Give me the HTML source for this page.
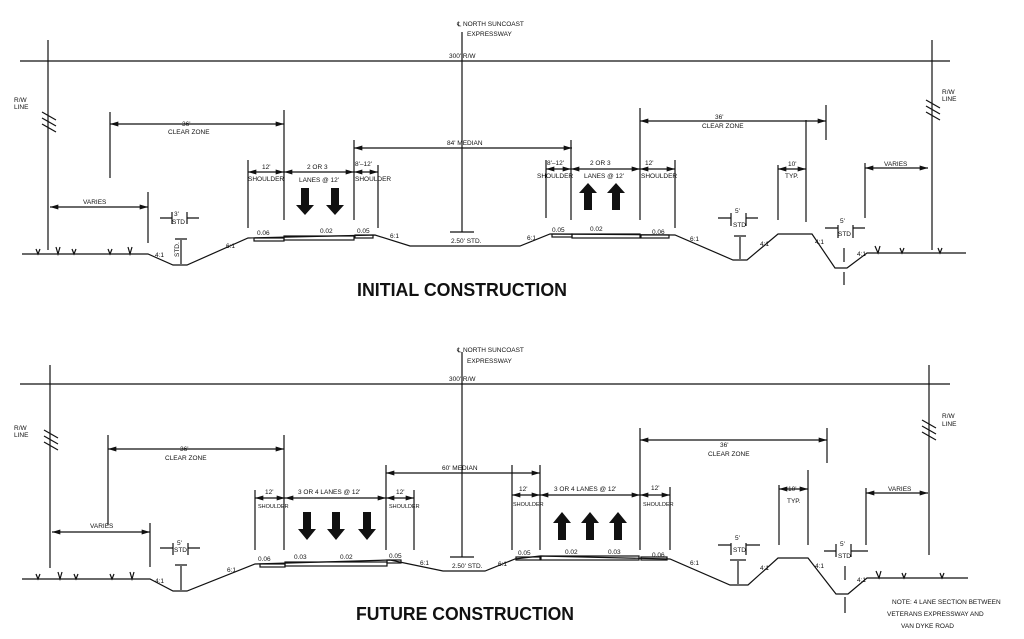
<!DOCTYPE html>
<html><head><meta charset="utf-8"><style>
html,body{margin:0;padding:0;background:#fff}
svg{display:block}
text{font-family:"Liberation Sans",sans-serif;font-size:6.5px;fill:#111}
.t{font-size:18px;font-weight:bold}
</style></head><body>
<svg width="1024" height="639" viewBox="0 0 1024 639" xmlns="http://www.w3.org/2000/svg">
<defs>
<marker id="a" viewBox="0 0 10 6" refX="10" refY="3" markerWidth="10" markerHeight="5" orient="auto-start-reverse" markerUnits="userSpaceOnUse"><path d="M0,0L10,3L0,6z" fill="#111"/></marker>
</defs>
<g stroke="#111" stroke-width="1.2" fill="none">
<!-- TOP -->
<line x1="462" y1="32" x2="462" y2="232"/>
<line x1="450" y1="232" x2="474" y2="232"/>
<line x1="20" y1="61" x2="950" y2="61"/>
<line x1="48" y1="40" x2="48" y2="250"/><line x1="932" y1="40" x2="932" y2="250"/>
<path d="M42,112l14,8M42,118l14,8M42,124l14,8M926,100l14,8M926,106l14,8M926,112l14,8"/>
<polyline points="22,254 148,254 173,265 187,265 248,238 375,235 410,246 520,246 550,234 675,235 733,260 747,260 778,234 812,234 835,268 847,268 867,253 966,253"/>
<path d="M36,249l2,5l2,-5M56,247l2,7l2,-7M72,249l2,5l2,-5M108,249l2,5l2,-5M128,247l2,7l2,-7M875,246l3,7l2,-7M900,248l2,5l2,-5M938,248l2,5l2,-5"/>
<rect x="254" y="238" width="30" height="3"/><rect x="284" y="236" width="70" height="4"/><rect x="355" y="235" width="18" height="3"/>
<rect x="552" y="234" width="20" height="3"/><rect x="572" y="234" width="68" height="4"/><rect x="641" y="235" width="28" height="3"/>
<path d="M110,112V178M284,110V220M148,192V243M248,160V228M354,140V220M378,165V228M546,160V218M571,140V220M640,108V220M675,160V228M826,105V140M806,120V222M778,165V220M865,163V218"/>
<line x1="110" y1="124" x2="284" y2="124" marker-start="url(#a)" marker-end="url(#a)"/>
<line x1="50" y1="207" x2="148" y2="207" marker-start="url(#a)" marker-end="url(#a)"/>
<line x1="248" y1="172" x2="284" y2="172" marker-start="url(#a)" marker-end="url(#a)"/>
<line x1="284" y1="172" x2="354" y2="172" marker-start="url(#a)" marker-end="url(#a)"/>
<line x1="354" y1="172" x2="378" y2="172" marker-start="url(#a)" marker-end="url(#a)"/>
<line x1="354" y1="148" x2="572" y2="148" marker-start="url(#a)" marker-end="url(#a)"/>
<line x1="546" y1="169" x2="571" y2="169" marker-start="url(#a)" marker-end="url(#a)"/>
<line x1="571" y1="169" x2="640" y2="169" marker-start="url(#a)" marker-end="url(#a)"/>
<line x1="640" y1="169" x2="675" y2="169" marker-start="url(#a)" marker-end="url(#a)"/>
<line x1="640" y1="121" x2="826" y2="121" marker-start="url(#a)" marker-end="url(#a)"/>
<line x1="778" y1="169" x2="806" y2="169" marker-start="url(#a)" marker-end="url(#a)"/>
<line x1="865" y1="168" x2="928" y2="168" marker-start="url(#a)" marker-end="url(#a)"/>
<path d="M172,212V224M187,212V224M160,218H172M187,218H199M731,213V226M746,213V226M718,218H731M746,218H758M838,225V238M853,225V238M825,228H838M853,228H865"/>
<path d="M175,239H187M181,240V264M734,236H746M740,237V259M844,248V262M844,285V272"/>
<!-- BOTTOM -->
<line x1="462" y1="352" x2="462" y2="557"/>
<line x1="450" y1="557" x2="474" y2="557"/>
<line x1="20" y1="384" x2="950" y2="384"/>
<line x1="50" y1="365" x2="50" y2="568"/><line x1="929" y1="365" x2="929" y2="555"/>
<path d="M44,430l14,8M44,436l14,8M44,442l14,8M922,420l14,8M922,426l14,8M922,432l14,8"/>
<polyline points="22,579 150,579 173,591 187,591 255,564 390,560 443,571 485,571 515,559 540,556 670,559 730,585 748,585 778,558 808,558 836,594 848,594 867,578 968,578"/>
<path d="M36,574l2,5l2,-5M58,572l2,7l2,-7M74,574l2,5l2,-5M110,574l2,5l2,-5M130,572l2,7l2,-7M876,571l3,7l2,-7M902,573l2,5l2,-5M940,573l2,5l2,-5"/>
<rect x="260" y="564" width="25" height="3"/><rect x="285" y="562" width="102" height="4"/><rect x="387" y="560" width="14" height="3"/>
<rect x="516" y="557" width="24" height="3"/><rect x="541" y="556" width="98" height="4"/><rect x="641" y="557" width="26" height="3"/>
<path d="M108,435V525M284,435V550M150,523V567M255,490V550M386,465V550M414,490V550M512,465V550M540,465V550M640,428V550M670,487V550M808,470V545M827,428V463M779,485V545M866,488V545"/>
<line x1="108" y1="449" x2="284" y2="449" marker-start="url(#a)" marker-end="url(#a)"/>
<line x1="52" y1="532" x2="150" y2="532" marker-start="url(#a)" marker-end="url(#a)"/>
<line x1="255" y1="498" x2="285" y2="498" marker-start="url(#a)" marker-end="url(#a)"/>
<line x1="285" y1="498" x2="386" y2="498" marker-start="url(#a)" marker-end="url(#a)"/>
<line x1="386" y1="498" x2="414" y2="498" marker-start="url(#a)" marker-end="url(#a)"/>
<line x1="386" y1="473" x2="540" y2="473" marker-start="url(#a)" marker-end="url(#a)"/>
<line x1="512" y1="495" x2="540" y2="495" marker-start="url(#a)" marker-end="url(#a)"/>
<line x1="540" y1="495" x2="640" y2="495" marker-start="url(#a)" marker-end="url(#a)"/>
<line x1="640" y1="495" x2="670" y2="495" marker-start="url(#a)" marker-end="url(#a)"/>
<line x1="640" y1="440" x2="827" y2="440" marker-start="url(#a)" marker-end="url(#a)"/>
<line x1="779" y1="489" x2="808" y2="489" marker-start="url(#a)" marker-end="url(#a)"/>
<line x1="866" y1="493" x2="928" y2="493" marker-start="url(#a)" marker-end="url(#a)"/>
<path d="M173,543V555M188,543V555M160,548H173M188,548H200M731,543V555M746,543V555M718,545H731M746,545H760M836,544V557M851,544V557M824,551H836M851,551H868"/>
<path d="M175,565H187M181,566V590M730,560H746M738,561V584M845,566V580M845,613V597"/>
</g>
<g fill="#111">
<path d="M301,188h8v17h5l-9,10l-9,-10h5z"/><path d="M331,188h8v17h5l-9,10l-9,-10h5z"/>
<path d="M584,210h8v-17h5l-9,-10l-9,10h5z"/><path d="M612,210h8v-17h5l-9,-10l-9,10h5z"/>
<path d="M303,512h8v17h5l-9,11l-9,-11h5z"/><path d="M332,512h8v17h5l-9,11l-9,-11h5z"/><path d="M363,512h8v17h5l-9,11l-9,-11h5z"/>
<path d="M558,540h8v-17h5l-9,-11l-9,11h5z"/><path d="M586,540h8v-17h5l-9,-11l-9,11h5z"/><path d="M614,540h8v-17h5l-9,-11l-9,11h5z"/>
</g>
<g>
<text x="457" y="26">℄ NORTH SUNCOAST</text><text x="467" y="36">EXPRESSWAY</text>
<text x="449" y="58">300' R/W</text>
<text x="14" y="102">R/W</text><text x="14" y="109">LINE</text>
<text x="942" y="94">R/W</text><text x="942" y="101">LINE</text>
<text x="182" y="126">36'</text><text x="168" y="134">CLEAR ZONE</text>
<text x="83" y="204">VARIES</text>
<text x="262" y="169">12'</text><text x="248" y="181">SHOULDER</text>
<text x="307" y="169">2 OR 3</text><text x="299" y="182">LANES @ 12'</text>
<text x="355" y="166">8'–12'</text><text x="355" y="181">SHOULDER</text>
<text x="447" y="145">84' MEDIAN</text>
<text x="174" y="216">3'</text><text x="172" y="224">STD</text>
<text x="257" y="235">0.06</text><text x="320" y="233">0.02</text><text x="357" y="233">0.05</text>
<text x="155" y="257">4:1</text><text x="226" y="248">6:1</text><text x="390" y="238">6:1</text>
<text x="451" y="243">2.50' STD.</text>
<text x="527" y="240">6:1</text><text x="552" y="232">0.05</text><text x="590" y="231">0.02</text><text x="652" y="234">0.06</text>
<text x="547" y="165">8'–12'</text><text x="590" y="165">2 OR 3</text><text x="645" y="165">12'</text>
<text x="537" y="178">SHOULDER</text><text x="584" y="178">LANES @ 12'</text><text x="641" y="178">SHOULDER</text>
<text x="702" y="128">CLEAR ZONE</text><text x="715" y="119">36'</text>
<text x="788" y="166">10'</text><text x="785" y="178">TYP.</text>
<text x="884" y="166">VARIES</text>
<text x="735" y="213">5'</text><text x="733" y="227">STD</text>
<text x="840" y="223">5'</text><text x="838" y="236">STD</text>
<text x="690" y="241">6:1</text><text x="760" y="246">4:1</text><text x="815" y="244">4:1</text><text x="857" y="256">4:1</text>
<text x="170" y="262" transform="rotate(-90 172 255)">STD.</text>
<text class="t" x="357" y="296" textLength="210" lengthAdjust="spacingAndGlyphs">INITIAL CONSTRUCTION</text>
<text x="457" y="352">℄ NORTH SUNCOAST</text><text x="467" y="363">EXPRESSWAY</text>
<text x="449" y="381">300' R/W</text>
<text x="14" y="430">R/W</text><text x="14" y="437">LINE</text>
<text x="942" y="418">R/W</text><text x="942" y="426">LINE</text>
<text x="180" y="451">36'</text><text x="165" y="460">CLEAR ZONE</text>
<text x="90" y="528">VARIES</text>
<text x="265" y="494">12'</text><text x="258" y="508" style="font-size:5.5px">SHOULDER</text>
<text x="298" y="494">3 OR 4 LANES @ 12'</text>
<text x="396" y="494">12'</text><text x="389" y="508" style="font-size:5.5px">SHOULDER</text>
<text x="442" y="470">60' MEDIAN</text>
<text x="519" y="491">12'</text><text x="513" y="506" style="font-size:5.5px">SHOULDER</text>
<text x="554" y="491">3 OR 4 LANES @ 12'</text>
<text x="651" y="490">12'</text><text x="643" y="506" style="font-size:5.5px">SHOULDER</text>
<text x="177" y="545">5'</text><text x="174" y="552">STD.</text>
<text x="258" y="561">0.06</text><text x="294" y="559">0.03</text><text x="340" y="559">0.02</text><text x="389" y="558">0.05</text>
<text x="155" y="583">4:1</text><text x="227" y="572">6:1</text><text x="420" y="565">6:1</text>
<text x="452" y="568">2.50' STD.</text><text x="498" y="566">6:1</text>
<text x="518" y="555">0.05</text><text x="565" y="554">0.02</text><text x="608" y="554">0.03</text><text x="652" y="557">0.06</text>
<text x="720" y="447">36'</text><text x="708" y="448" dy="8">CLEAR ZONE</text>
<text x="788" y="491">10'</text><text x="787" y="503">TYP.</text>
<text x="888" y="491">VARIES</text>
<text x="735" y="540">5'</text><text x="733" y="552">STD</text>
<text x="840" y="546">5'</text><text x="838" y="558">STD</text>
<text x="690" y="565">6:1</text><text x="760" y="570">4:1</text><text x="815" y="568">4:1</text><text x="857" y="582">4:1</text>
<text class="t" x="356" y="620" textLength="218" lengthAdjust="spacingAndGlyphs">FUTURE CONSTRUCTION</text>
<text x="892" y="604">NOTE: 4 LANE SECTION BETWEEN</text>
<text x="887" y="616">VETERANS EXPRESSWAY AND</text>
<text x="901" y="628">VAN DYKE ROAD</text>
</g>
</svg>
</body></html>
